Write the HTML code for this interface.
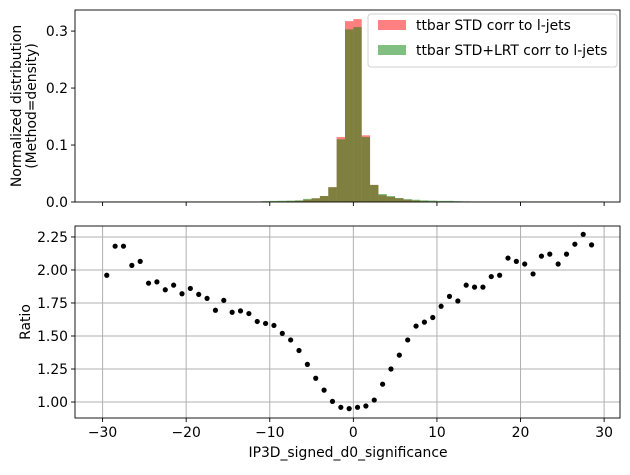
<!DOCTYPE html>
<html><head><meta charset="utf-8"><style>
body{margin:0;background:#fff}
svg text{font-family:"DejaVu Sans","Liberation Sans",sans-serif;font-size:13.9px;fill:#000}
</style></head><body>
<svg id="c" width="630" height="470" viewBox="0 0 630 470" xmlns="http://www.w3.org/2000/svg"></svg>
<script>
const binEdgesStart = -30;
const binWidth = 1;
const histStd = [0.0005,0.0005,0.0005,0.0005,0.0005,0.0005,0.0005,0.0005,0.0005,0.0005,0.0005,0.0005,0.0005,0.0005,0.0005,0.0005,0.0005,0.0005,0.0005,0.001,0.001,0.0012,0.0015,0.002,0.004,0.0065,0.0105,0.026,0.114,0.3175,0.321,0.117,0.030,0.012,0.009,0.0065,0.004,0.0025,0.0015,0.0012,0.001,0.001,0.0008,0.0006,0.0005,0.0005,0.0005,0.0005,0.0005,0.0005,0.0005,0.0005,0.0005,0.0005,0.0005,0.0005,0.0005,0.0005,0.0005,0.0005];
const histLrt = [0.001,0.001,0.001,0.001,0.001,0.001,0.001,0.001,0.001,0.001,0.001,0.001,0.001,0.001,0.001,0.001,0.001,0.001,0.001,0.0015,0.002,0.0022,0.0025,0.003,0.0055,0.0065,0.0105,0.026,0.110,0.303,0.307,0.114,0.030,0.014,0.0105,0.007,0.005,0.004,0.003,0.0025,0.002,0.002,0.0015,0.0012,0.001,0.001,0.001,0.001,0.001,0.001,0.001,0.001,0.001,0.001,0.001,0.001,0.001,0.001,0.001,0.001];
const ratioX = [-29.5,-28.5,-27.5,-26.5,-25.5,-24.5,-23.5,-22.5,-21.5,-20.5,-19.5,-18.5,-17.5,-16.5,-15.5,-14.5,-13.5,-12.5,-11.5,-10.5,-9.5,-8.5,-7.5,-6.5,-5.5,-4.5,-3.5,-2.5,-1.5,-0.5,0.5,1.5,2.5,3.5,4.5,5.5,6.5,7.5,8.5,9.5,10.5,11.5,12.5,13.5,14.5,15.5,16.5,17.5,18.5,19.5,20.5,21.5,22.5,23.5,24.5,25.5,26.5,27.5,28.5];
const ratioY = [1.96,2.18,2.18,2.035,2.065,1.90,1.91,1.85,1.885,1.82,1.86,1.815,1.785,1.695,1.77,1.68,1.69,1.67,1.61,1.595,1.58,1.52,1.47,1.39,1.285,1.18,1.09,1.005,0.96,0.95,0.96,0.97,1.015,1.135,1.25,1.355,1.47,1.575,1.605,1.64,1.725,1.80,1.765,1.885,1.87,1.87,1.95,1.96,2.09,2.065,2.045,1.97,2.105,2.12,2.045,2.12,2.195,2.27,2.19];
const xTicks = [-30,-20,-10,0,10,20,30];
const topYTicks = [0.0,0.1,0.2,0.3];
const botYTicks = [1.00,1.25,1.50,1.75,2.00,2.25];

const NS='http://www.w3.org/2000/svg';
const svg=document.getElementById('c');
function mk(tag,attrs,parent){const e=document.createElementNS(NS,tag);for(const k in attrs)e.setAttribute(k,attrs[k]);(parent||svg).appendChild(e);return e;}
const L=75,R=620;
const xs=v=>L+(v-(-33.3))/(31.9-(-33.3))*(R-L);
const T1=10,B1=202; const y1=v=>B1-(v-0)/(0.337)*(B1-T1);
const T2=226,B2=418; const y2=v=>B2-(v-0.879)/(2.333-0.879)*(B2-T2);

xTicks.forEach(t=>{const g=mk('line',{x1:xs(t),x2:xs(t),y1:T2,y2:B2,stroke:'#b0b0b0','stroke-width':1});

});
botYTicks.forEach(t=>{const g=mk('line',{x1:L,x2:R,y1:y2(t),y2:y2(t),stroke:'#b0b0b0','stroke-width':1});

});

function drawHist(arr,color,name){arr.forEach((v,i)=>{const x0=binEdgesStart+i*binWidth;const r=mk('rect',{x:xs(x0),y:y1(v),width:xs(x0+binWidth)-xs(x0),height:B1-y1(v),fill:color,'fill-opacity':0.5});

});}
drawHist(histStd,'#ff0000','std-hist-bar');
drawHist(histLrt,'#008000','lrt-hist-bar');

ratioX.forEach((x,i)=>{const c=mk('circle',{cx:xs(x),cy:y2(ratioY[i]),r:2.6,fill:'#000'});

});

[[T1,B1,'top-axes-frame'],[T2,B2,'bottom-axes-frame']].forEach(([t,b,n])=>{const f=mk('rect',{x:L,y:t,width:R-L,height:b-t,fill:'none',stroke:'#000','stroke-width':0.9});

});

xTicks.forEach(t=>{mk('line',{x1:xs(t),x2:xs(t),y1:B1,y2:B1+4,stroke:'#000','stroke-width':0.9});
mk('line',{x1:xs(t),x2:xs(t),y1:B2,y2:B2+4,stroke:'#000','stroke-width':0.9});
const tx=mk('text',{x:xs(t),y:B2+19,'text-anchor':'middle'});tx.textContent=t<0?'\u2212'+(-t):String(t);

});
topYTicks.forEach(t=>{mk('line',{x1:L-4,x2:L,y1:y1(t),y2:y1(t),stroke:'#000','stroke-width':0.9});
const tx=mk('text',{x:L-7,y:y1(t)+5,'text-anchor':'end'});tx.textContent=t.toFixed(1);

});
botYTicks.forEach(t=>{mk('line',{x1:L-4,x2:L,y1:y2(t),y2:y2(t),stroke:'#000','stroke-width':0.9});
const tx=mk('text',{x:L-7,y:y2(t)+5,'text-anchor':'end'});tx.textContent=t.toFixed(2);

});
</script>
<svg style="position:absolute;left:0;top:0" width="630" height="470">
<text x="348" y="457" text-anchor="middle">IP3D_signed_d0_significance</text>
<text transform="translate(30,322) rotate(-90)" text-anchor="middle">Ratio</text>
<text transform="translate(21,106) rotate(-90)" text-anchor="middle">Normalized distribution</text>
<text transform="translate(36,106) rotate(-90)" text-anchor="middle">(Method=density)</text>
<g>
<rect x="368" y="14" width="249" height="53" rx="3" fill="#fff" fill-opacity="0.8" stroke="#d0d0d0"/>
<rect x="378" y="20" width="28" height="10" fill="#ff8080"/>
<text x="416" y="30">ttbar STD corr to l-jets</text>
<rect x="378" y="45" width="28" height="10" fill="#80bf80"/>
<text x="416" y="55">ttbar STD+LRT corr to l-jets</text>
</g>
</svg>
</body></html>
